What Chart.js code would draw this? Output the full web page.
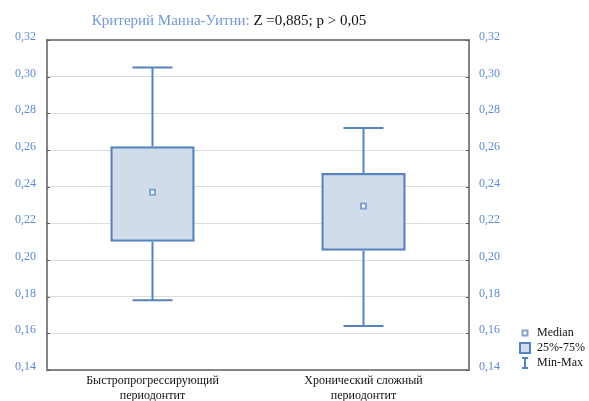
<!DOCTYPE html>
<html>
<head>
<meta charset="utf-8">
<script src="https://cdn.jsdelivr.net/npm/chart.js@4/dist/chart.umd.min.js"></script>
<style>
  html, body { margin: 0; padding: 0; background: #fff; }
  #wrap { width: 589px; height: 401px; position: relative; }
</style>
</head>
<body>
<div id="wrap"><canvas id="c"></canvas></div>
<script>
// Groups and their five-number summaries
const categories = [['Быстропрогрессирующий', 'периодонтит'], ['Хронический сложный', 'периодонтит']];
const minValues = [0.178, 0.164];
const q1Values = [0.210, 0.205];
const medianValues = [0.237, 0.2295];
const q3Values = [0.262, 0.2475];
const maxValues = [0.305, 0.272];

// Axis range
const yMin = 0.14;
const yMax = 0.32;
const yStep = 0.02;

const titleParts = [
  { text: 'Критерий Манна-Уитни: ', color: '#6f9ad6' },
  { text: 'Z =0,885; p > 0,05', color: '#111' }
];
const legendItems = ['Median', '25%-75%', 'Min-Max'];

const BLUE = '#5683bc';
const FILL = '#d0dcea';
const SERIF = '"Liberation Serif", "DejaVu Serif", serif';

const fmt = v => Number(v).toFixed(2).replace('.', ',');

// Whiskers, frame, title and legend
const boxExtras = {
  id: 'boxExtras',
  beforeDatasetsDraw(chart) {
    const { ctx, scales: { x, y } } = chart;
    ctx.save();
    ctx.strokeStyle = BLUE;
    ctx.lineWidth = 2;
    categories.forEach((_, i) => {
      const cx = x.getPixelForValue(i);
      const half = 20;
      const yMinP = y.getPixelForValue(minValues[i]);
      const yMaxP = y.getPixelForValue(maxValues[i]);
      ctx.beginPath();
      ctx.moveTo(cx, yMinP); ctx.lineTo(cx, y.getPixelForValue(q1Values[i]));
      ctx.moveTo(cx, y.getPixelForValue(q3Values[i])); ctx.lineTo(cx, yMaxP);
      ctx.moveTo(cx - half, yMinP); ctx.lineTo(cx + half, yMinP);
      ctx.moveTo(cx - half, yMaxP); ctx.lineTo(cx + half, yMaxP);
      ctx.stroke();
    });
    ctx.restore();
  },
  afterDraw(chart) {
    const { ctx, chartArea: a, scales: { y } } = chart;
    ctx.save();
    // plot frame
    ctx.strokeStyle = '#858585';
    ctx.lineWidth = 2;
    ctx.strokeRect(a.left, a.top, a.right - a.left, a.bottom - a.top);
    // inner tick marks
    ctx.strokeStyle = '#555';
    ctx.lineWidth = 1;
    y.ticks.forEach(t => {
      const py = Math.round(y.getPixelForValue(t.value)) + 0.5;
      ctx.beginPath();
      ctx.moveTo(a.left, py); ctx.lineTo(a.left + 3, py);
      ctx.moveTo(a.right - 3, py); ctx.lineTo(a.right, py);
      ctx.stroke();
    });
    // title
    ctx.font = '15px ' + SERIF;
    ctx.textBaseline = 'alphabetic';
    ctx.textAlign = 'left';
    const total = titleParts.reduce((s, p) => s + ctx.measureText(p.text).width, 0);
    let tx = 229 - total / 2;
    titleParts.forEach(p => {
      ctx.fillStyle = p.color;
      ctx.fillText(p.text, tx, 25);
      tx += ctx.measureText(p.text).width;
    });
    // legend
    const lx = 525;
    const rows = [333, 348, 363];
    // median marker
    ctx.fillStyle = '#7fa2cf';
    ctx.fillRect(lx - 3.5, rows[0] - 3.5, 7, 7);
    ctx.fillStyle = '#fff';
    ctx.fillRect(lx - 1.5, rows[0] - 1.5, 3, 3);
    // box marker
    ctx.fillStyle = FILL;
    ctx.strokeStyle = BLUE;
    ctx.lineWidth = 2;
    ctx.fillRect(lx - 5, rows[1] - 5, 10, 10);
    ctx.strokeRect(lx - 5, rows[1] - 5, 10, 10);
    // min-max marker
    ctx.beginPath();
    ctx.moveTo(lx - 3, rows[2] - 5); ctx.lineTo(lx + 3, rows[2] - 5);
    ctx.moveTo(lx, rows[2] - 5); ctx.lineTo(lx, rows[2] + 5);
    ctx.moveTo(lx - 3, rows[2] + 5); ctx.lineTo(lx + 3, rows[2] + 5);
    ctx.stroke();
    ctx.fillStyle = '#111';
    ctx.font = '12px ' + SERIF;
    ctx.textBaseline = 'middle';
    legendItems.forEach((t, i) => ctx.fillText(t, 537, rows[i]));
    ctx.restore();
  }
};

new Chart(document.getElementById('c'), {
  data: {
    labels: categories,
    datasets: [
      {
        type: 'line',
        label: 'Median',
        data: medianValues,
        showLine: false,
        pointStyle: 'rect',
        pointRadius: 3.5,
        pointBorderWidth: 2,
        pointBorderColor: '#7fa2cf',
        pointBackgroundColor: '#fff',
        order: 0
      },
      {
        type: 'bar',
        label: '25%-75%',
        data: q1Values.map((q, i) => [q, q3Values[i]]),
        backgroundColor: FILL,
        borderColor: BLUE,
        borderWidth: 2.5,
        borderSkipped: false,
        barPercentage: 0.4,
        categoryPercentage: 1,
        order: 1
      }
    ]
  },
  options: {
    responsive: true,
    maintainAspectRatio: false,
    animation: false,
    devicePixelRatio: 1,
    layout: { padding: { top: 40, left: 0, right: 0, bottom: 0 } },
    plugins: { legend: { display: false }, tooltip: { enabled: false }, title: { display: false } },
    scales: {
      x: {
        type: 'category',
        offset: true,
        grid: { display: false, drawTicks: false },
        border: { display: false },
        ticks: { color: '#111', font: { family: SERIF, size: 12 }, padding: 4, maxRotation: 0 },
        afterFit(s) { s.height = 31; }
      },
      y: {
        position: 'left',
        min: yMin, max: yMax,
        grid: { color: '#dcdcdc', lineWidth: 1, drawTicks: false },
        border: { display: false },
        ticks: { stepSize: yStep, color: '#5a8ad6', font: { family: SERIF, size: 12 }, padding: 11, labelOffset: -3, callback: fmt },
        afterFit(s) { s.width = 47; }
      },
      y2: {
        position: 'right',
        min: yMin, max: yMax,
        grid: { display: false, drawTicks: false },
        border: { display: false },
        ticks: { stepSize: yStep, color: '#5a8ad6', font: { family: SERIF, size: 12 }, padding: 10, labelOffset: -3, callback: fmt },
        afterFit(s) { s.width = 120; }
      }
    }
  },
  plugins: [boxExtras]
});
</script>
</body>
</html>
